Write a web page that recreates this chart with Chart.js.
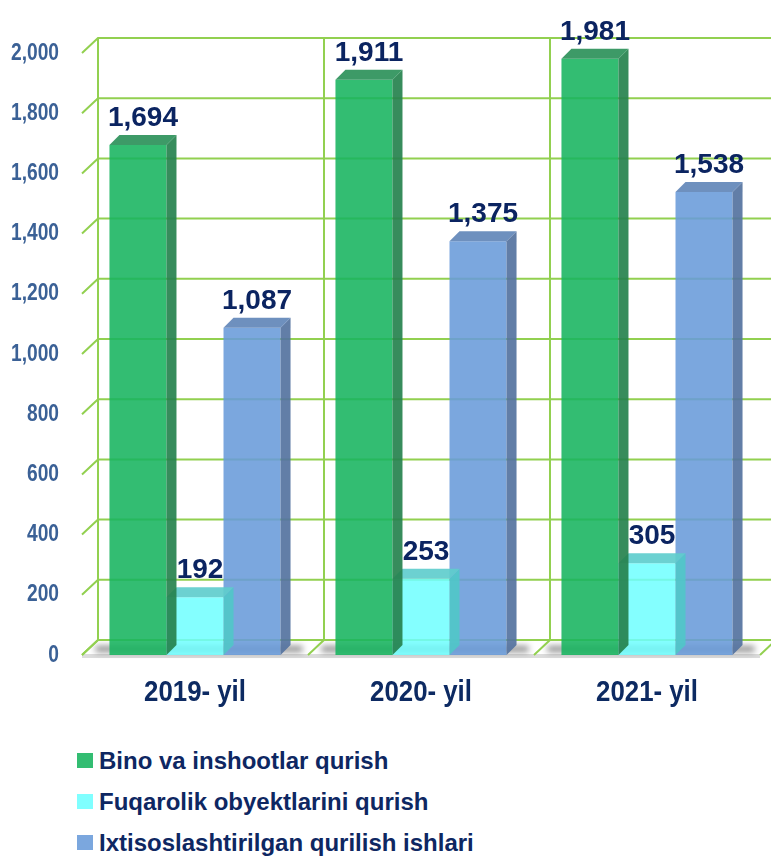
<!DOCTYPE html>
<html>
<head>
<meta charset="utf-8">
<script src="https://cdn.jsdelivr.net/npm/chart.js@4.4.1/dist/chart.umd.min.js"></script>
<style>
  body { margin: 0; background: #fff; }
  #wrap { position: relative; width: 771px; height: 859px; }
  #legend { position: absolute; left: 77px; top: 740px; font: bold 24px 'Liberation Sans', Arial, sans-serif; color: #0E2762; }
  #legend div { display: flex; align-items: center; height: 41px; }
  #legend span.box { display: inline-block; width: 16px; height: 15px; margin-right: 6px; }
</style>
</head>
<body>
<div id="wrap">
  <canvas id="chart" width="771" height="720"></canvas>
  <div id="legend"></div>
</div>
<script>
// Ma'lumotlar
const years = ['2019- yil', '2020- yil', '2021- yil'];
const binoQurish = [1694, 1911, 1981];
const fuqarolikQurish = [192, 253, 305];
const ixtisosIshlari = [1087, 1375, 1538];
const seriesNames = ['Bino va inshootlar qurish', 'Fuqarolik obyektlarini qurish', 'Ixtisoslashtirilgan qurilish ishlari'];

// Ranglar (old yuz, yon yuz, ust yuz)
const faces = [
    { front: 'rgba(23,180,95,0.88)', side: 'rgba(38,130,78,0.92)', top: 'rgba(45,145,90,0.92)', legend: '#33BD72' },
    { front: 'rgba(111,255,255,0.85)', side: 'rgba(80,200,200,0.9)', top: 'rgba(95,205,205,0.92)', legend: '#80FFFF' },
    { front: 'rgba(105,155,217,0.88)', side: 'rgba(85,115,160,0.92)', top: 'rgba(98,135,185,0.92)', legend: '#7BA7DE' }
];

const DX = 16, DY = 15;   // orqa devor siljishi
const BDX = 10, BDY = 10; // ustun chuqurligi
const sans = "'Liberation Sans', Arial, sans-serif";

const fmt = v => v.toLocaleString('en-US');

// tor (narrow) yozuv: gorizontal siqib chizish
function narrowText(ctx, text, x, y, sx, align) {
    ctx.save();
    ctx.translate(x, y);
    ctx.scale(sx, 1);
    ctx.textAlign = align;
    ctx.fillText(text, 0, 0);
    ctx.restore();
}

// 3D ko'rinish uchun plagin
const wall3d = {
    id: 'wall3d',
    beforeDatasetsDraw(chart) {
        const { ctx, chartArea: a, scales: { y } } = chart;
        const n = years.length;
        const cw = (a.right - a.left) / n;
        ctx.save();
        // pol chetidagi kulrang tasma
        ctx.fillStyle = '#dcdcdc';
        ctx.fillRect(a.left, a.bottom - 1, a.right - a.left, 4);
        // soyalar
        const m0 = chart.getDatasetMeta(0), m2 = chart.getDatasetMeta(2);
        ctx.filter = 'blur(3px)';
        ctx.fillStyle = 'rgba(0,0,0,0.45)';
        for (let i = 0; i < n; i++) {
            const l = m0.data[i].x - m0.data[i].width / 2;
            const r = m2.data[i].x + m2.data[i].width / 2 + BDX;
            ctx.fillRect(l - 14, a.bottom - 9, r - l + 26, 6);
        }
        ctx.filter = 'none';
        ctx.strokeStyle = '#92D050';
        ctx.lineWidth = 2;
        // gorizontal chiziqlar
        y.ticks.forEach(t => {
            const py = y.getPixelForValue(t.value);
            ctx.beginPath();
            ctx.moveTo(a.left, py);
            ctx.lineTo(a.left + DX, py - DY);
            ctx.lineTo(a.right + DX, py - DY);
            ctx.stroke();
        });
        // vertikal chiziqlar va pol diagonallari
        for (let i = 0; i <= n; i++) {
            const bx = a.left + i * cw;
            ctx.beginPath();
            ctx.moveTo(bx + DX, a.top - DY);
            ctx.lineTo(bx + DX, a.bottom - DY);
            ctx.moveTo(bx, a.bottom);
            ctx.lineTo(bx + DX, a.bottom - DY);
            ctx.stroke();
        }
        ctx.restore();
    },
    afterDatasetDraw(chart, args) {
        const ctx = chart.ctx;
        const c = faces[args.index];
        ctx.save();
        args.meta.data.forEach(bar => {
            const { x, y, base, width } = bar.getProps(['x', 'y', 'base', 'width'], true);
            const l = x - width / 2, r = x + width / 2;
            ctx.fillStyle = c.side;
            ctx.beginPath();
            ctx.moveTo(r, y);
            ctx.lineTo(r + BDX, y - BDY);
            ctx.lineTo(r + BDX, base - BDY);
            ctx.lineTo(r, base);
            ctx.closePath();
            ctx.fill();
            ctx.fillStyle = c.top;
            ctx.beginPath();
            ctx.moveTo(l, y);
            ctx.lineTo(r, y);
            ctx.lineTo(r + BDX, y - BDY);
            ctx.lineTo(l + BDX, y - BDY);
            ctx.closePath();
            ctx.fill();
        });
        ctx.restore();
    },
    afterDraw(chart) {
        const { ctx, chartArea: a, scales: { x, y } } = chart;
        ctx.save();
        ctx.textBaseline = 'middle';
        // Y o'qi yozuvlari
        ctx.font = 'bold 24px ' + sans;
        ctx.fillStyle = '#3B6196';
        y.ticks.forEach(t => {
            narrowText(ctx, fmt(t.value), a.left - 23, y.getPixelForValue(t.value), 0.8, 'right');
        });
        // X o'qi yozuvlari
        ctx.font = 'bold 30px ' + sans;
        ctx.fillStyle = '#0D2A62';
        years.forEach((yr, i) => {
            narrowText(ctx, yr, x.getPixelForTick(i), a.bottom + 38, 0.86, 'center');
        });
        // qiymat yozuvlari
        ctx.font = 'bold 28px ' + sans;
        ctx.fillStyle = '#0B2461';
        ctx.textAlign = 'center';
        ctx.textBaseline = 'alphabetic';
        chart.data.datasets.forEach((ds, i) => {
            chart.getDatasetMeta(i).data.forEach((bar, j) => {
                ctx.fillText(fmt(ds.data[j]), bar.x + BDX / 2, bar.y - BDY - 9);
            });
        });
        ctx.restore();
    }
};

const seriesData = [binoQurish, fuqarolikQurish, ixtisosIshlari];

const ctx = document.getElementById('chart').getContext('2d');
const chart = new Chart(ctx, {
    type: 'bar',
    data: {
        labels: years,
        datasets: seriesData.map((d, i) => ({
            label: seriesNames[i],
            data: d,
            backgroundColor: faces[i].front,
            borderWidth: 0,
            categoryPercentage: 0.757,
            barPercentage: 1
        }))
    },
    options: {
        responsive: false,
        animation: false,
        layout: { padding: { top: 53, right: 11, left: 0, bottom: 0 } },
        plugins: { legend: { display: false }, tooltip: { enabled: false } },
        scales: {
            x: {
                grid: { display: false, drawTicks: false },
                border: { display: false },
                ticks: { display: false },
                afterFit(s) { s.height = 65; }
            },
            y: {
                min: 0,
                max: 2000,
                grid: { display: false, drawTicks: false },
                border: { display: false },
                ticks: { display: false, stepSize: 200 },
                afterFit(s) { s.width = 82; }
            }
        }
    },
    plugins: [wall3d]
});

// Legenda
const legend = document.getElementById('legend');
seriesNames.forEach((name, i) => {
    const row = document.createElement('div');
    row.innerHTML = '<span class="box" style="background:' + faces[i].legend + '"></span>' + name;
    legend.appendChild(row);
});
</script>
</body>
</html>
